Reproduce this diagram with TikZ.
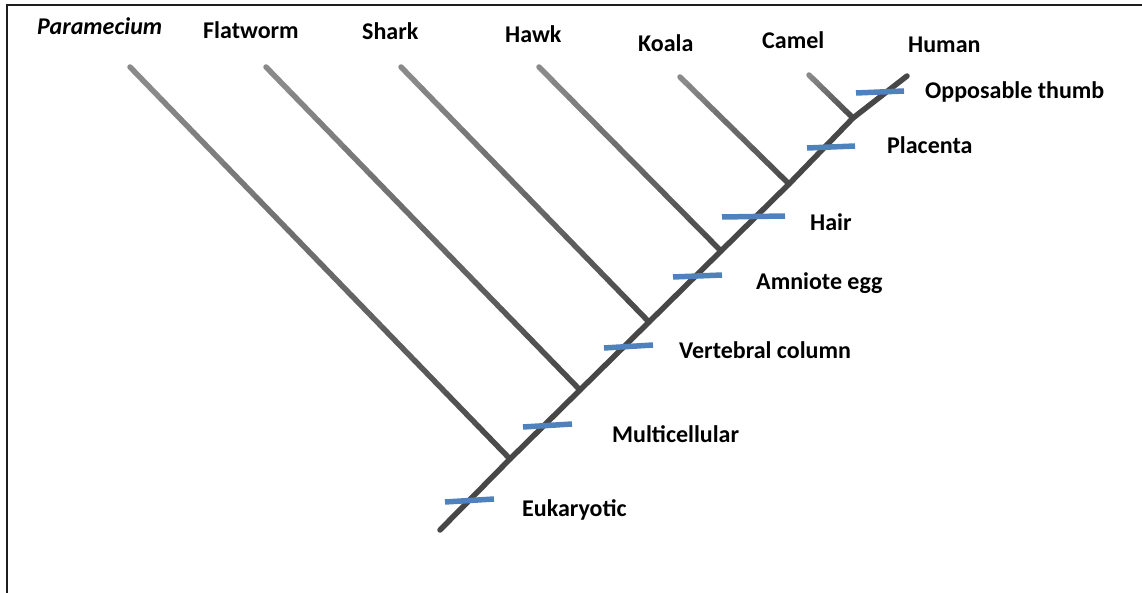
\documentclass[tikz,border=0pt]{standalone}
\usepackage{fontspec}
\setmainfont{Carlito}
\usetikzlibrary{calc}
\definecolor{tickblue}{HTML}{4F81BD}
\definecolor{framegray}{HTML}{1E1E1E}

% a side branch, fading from light at its tip to dark at the trunk
\newcommand\drawbranch[2]{%
  \foreach \i in {0,...,11} {%
    \pgfmathsetmacro\ta{\i/12}%
    \pgfmathsetmacro\tb{(\i+1)/12}%
    \pgfmathsetmacro\shade{46+24*\i/11}%
    \draw[branchline, color=black!\shade] ($(#1)!\ta!(#2)$) -- ($(#1)!\tb!(#2)$);
  }%
}

\begin{document}
\begin{tikzpicture}[x=1pt, y=-1pt,
  label/.style={anchor=base west, inner sep=0pt,
                font=\fontsize{24}{28}\selectfont\bfseries},
  branchline/.style={line width=5.5pt, line cap=round},
  trunk/.style={line width=5.5pt, line cap=round, line join=round, color=black!72},
  tick/.style={line width=5.5pt, color=tickblue},
  frame/.style={line width=2.5pt, color=framegray}
]
\useasboundingbox (0,0) rectangle (1142,593);

% open frame: top and left edges
\coordinate (frameTL) at (7,5);
\coordinate (frameTR) at (1142,5);
\coordinate (frameBL) at (7,593);
\draw[frame] (frameTR) -- (frameTL) -- (frameBL);

% taxa
\node[label, font=\fontsize{24}{28}\selectfont\bfseries\itshape] (paramecium) at (37,35) {Paramecium};
\node[label] (flatworm) at (203,39) {Flatworm};
\node[label] (shark)    at (362,40) {Shark};
\node[label] (hawk)     at (505,43) {Hawk};
\node[label] (koala)    at (638,52) {Koala};
\node[label] (camel)    at (762,49) {Camel};
\node[label] (human)    at (908,53) {Human};

% characters
\node[label] (thumb)    at (925,99)  {Opposable thumb};
\node[label] (placenta) at (887,154) {Placenta};
\node[label] (hair)     at (810,231) {Hair};
\node[label] (amniote)  at (756,290) {Amniote egg};
\node[label] (vertebral) at (679,358) {Vertebral column};
\node[label] (multi)    at (612,442) {Multicellular};
\node[label] (eukaryotic) at (522,516) {Eukaryotic};

% branch tips
\coordinate (tipP) at (130,67);
\coordinate (tipF) at (266,67);
\coordinate (tipS) at (401,67);
\coordinate (tipH) at (539,67);
\coordinate (tipK) at (680,77);
\coordinate (tipC) at (809,75);

% points on the trunk
\coordinate (root) at (440,530);
\coordinate (jP) at (510,459);
\coordinate (jF) at (580,390);
\coordinate (jS) at (649,322);
\coordinate (jH) at (721,251);
\coordinate (jK) at (789,184);
\coordinate (jC) at (853,118);
\coordinate (top) at (907,76);

% side branches
\drawbranch{tipP}{jP}
\drawbranch{tipF}{jF}
\drawbranch{tipS}{jS}
\drawbranch{tipH}{jH}
\drawbranch{tipK}{jK}
\drawbranch{tipC}{jC}

% main trunk
\draw[trunk] (root) -- (jP) -- (jF) -- (jS) -- (jH) -- (jK) -- (jC) -- (top);

% character marks
\draw[tick] (445,502) -- (494,499);
\draw[tick] (523,427) -- (572,424);
\draw[tick] (604,348) -- (653,345);
\draw[tick] (673,277) -- (722,275);
\draw[tick] (722,217) -- (785,216);
\draw[tick] (807,148) -- (855,146);
\draw[tick] (856,93)  -- (904,91);
\end{tikzpicture}
\end{document}
